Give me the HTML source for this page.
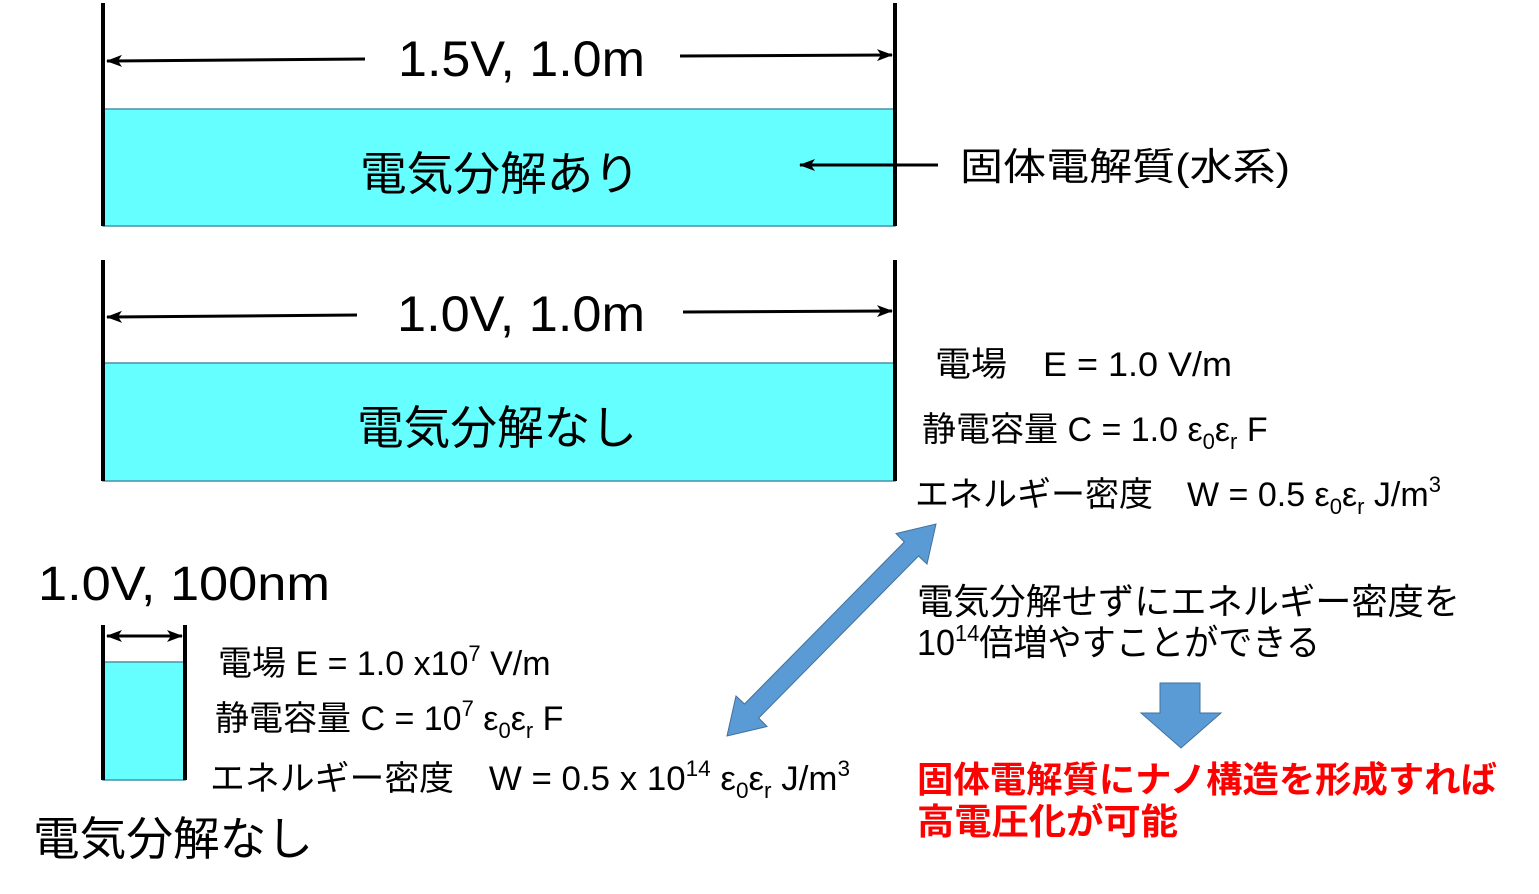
<!DOCTYPE html>
<html><head><meta charset="utf-8"><style>
html,body{margin:0;padding:0;background:#fff;}
svg{display:block;}
text{font-family:"Liberation Sans","Noto Sans CJK JP",sans-serif;fill:#000;}
</style></head><body>
<svg width="1539" height="894" viewBox="0 0 1539 894" xmlns="http://www.w3.org/2000/svg">
<defs>
<marker id="ah" markerWidth="16" markerHeight="12" refX="15" refY="6" orient="auto" markerUnits="userSpaceOnUse">
<path d="M0,0 L16,6 L0,12 L4,6 Z" fill="#000"/></marker>
</defs>
<!-- container 1 -->
<rect x="103" y="109" width="792" height="117" fill="#66ffff" stroke="#4a90a8" stroke-width="1.5"/>
<line x1="103" y1="3" x2="103" y2="226" stroke="#000" stroke-width="4"/>
<line x1="895" y1="3" x2="895" y2="226" stroke="#000" stroke-width="4"/>
<line x1="365" y1="59" x2="107" y2="61" stroke="#000" stroke-width="3" marker-end="url(#ah)"/>
<line x1="680" y1="56" x2="892" y2="55" stroke="#000" stroke-width="3" marker-end="url(#ah)"/>
<text x="398" y="76" font-size="50" textLength="247" lengthAdjust="spacingAndGlyphs">1.5V, 1.0m</text>
<text x="360" y="190" font-size="46" textLength="280" lengthAdjust="spacingAndGlyphs">電気分解あり</text>
<line x1="938" y1="165" x2="800" y2="165" stroke="#000" stroke-width="3" marker-end="url(#ah)"/>
<text x="960" y="180" font-size="38" textLength="330" lengthAdjust="spacingAndGlyphs">固体電解質(水系)</text>
<!-- container 2 -->
<rect x="103" y="363" width="792" height="118" fill="#66ffff" stroke="#4a90a8" stroke-width="1.5"/>
<line x1="103" y1="260" x2="103" y2="481" stroke="#000" stroke-width="4"/>
<line x1="895" y1="260" x2="895" y2="481" stroke="#000" stroke-width="4"/>
<line x1="357" y1="315" x2="107" y2="317" stroke="#000" stroke-width="3" marker-end="url(#ah)"/>
<line x1="683" y1="312" x2="892" y2="311" stroke="#000" stroke-width="3" marker-end="url(#ah)"/>
<text x="397" y="331" font-size="50" textLength="248" lengthAdjust="spacingAndGlyphs">1.0V, 1.0m</text>
<text x="357" y="444" font-size="46" textLength="280" lengthAdjust="spacingAndGlyphs">電気分解なし</text>
<text x="935" y="376" font-size="34" textLength="297" lengthAdjust="spacingAndGlyphs">電場　E = 1.0 V/m</text>
<text x="922" y="441" font-size="34">静電容量 C = 1.0 ε<tspan font-size="22" dy="8">0</tspan><tspan dy="-8">ε</tspan><tspan font-size="22" dy="8">r</tspan><tspan dy="-8"> F</tspan></text>
<text x="915" y="506" font-size="34">エネルギー密度　W = 0.5 ε<tspan font-size="22" dy="8">0</tspan><tspan dy="-8">ε</tspan><tspan font-size="22" dy="8">r</tspan><tspan dy="-8">  J/m</tspan><tspan font-size="22" dy="-14">3</tspan></text>
<!-- small container -->
<rect x="103" y="662" width="82" height="118" fill="#66ffff" stroke="#4a90a8" stroke-width="1.5"/>
<line x1="103" y1="625" x2="103" y2="780" stroke="#000" stroke-width="4"/>
<line x1="185" y1="625" x2="185" y2="780" stroke="#000" stroke-width="4"/>
<line x1="144" y1="636" x2="107" y2="636" stroke="#000" stroke-width="3" marker-end="url(#ah)"/>
<line x1="144" y1="636" x2="182" y2="636" stroke="#000" stroke-width="3" marker-end="url(#ah)"/>
<text x="38" y="600" font-size="48" textLength="292" lengthAdjust="spacingAndGlyphs">1.0V, 100nm</text>
<text x="218" y="675" font-size="34">電場 E = 1.0 x10<tspan font-size="22" dy="-14">7</tspan><tspan dy="14"> V/m</tspan></text>
<text x="215" y="730" font-size="34">静電容量 C = 10<tspan font-size="22" dy="-14">7</tspan><tspan dy="14"> ε</tspan><tspan font-size="22" dy="8">0</tspan><tspan dy="-8">ε</tspan><tspan font-size="22" dy="8">r</tspan><tspan dy="-8"> F</tspan></text>
<text x="210" y="790" font-size="34" textLength="640" lengthAdjust="spacingAndGlyphs">エネルギー密度　W = 0.5 x 10<tspan font-size="22" dy="-14">14</tspan><tspan dy="14"> ε</tspan><tspan font-size="22" dy="8">0</tspan><tspan dy="-8">ε</tspan><tspan font-size="22" dy="8">r</tspan><tspan dy="-8">  J/m</tspan><tspan font-size="22" dy="-14">3</tspan></text>
<text x="33" y="855" font-size="46" textLength="280" lengthAdjust="spacingAndGlyphs">電気分解なし</text>
<!-- double arrow -->
<polygon points="936,524 927,564 918.5,556 758.7,718 767,726.5 727,736 736,696 744.5,704 904.3,542 896,533.5" fill="#5b9bd5" stroke="#41719c" stroke-width="1"/>
<!-- down arrow -->
<polygon points="1160,683 1200,683 1200,713 1221,713 1181,748 1141,713 1160,713" fill="#5b9bd5" stroke="#41719c" stroke-width="1"/>
<text x="917" y="614" font-size="36" textLength="543" lengthAdjust="spacingAndGlyphs">電気分解せずにエネルギー密度を</text>
<text x="917" y="655" font-size="36" textLength="403" lengthAdjust="spacingAndGlyphs">10<tspan font-size="23" dy="-14">14</tspan><tspan dy="14">倍増やすことができる</tspan></text>
<text x="917" y="792" font-size="36" font-weight="bold" style="fill:#ff0000" textLength="580" lengthAdjust="spacingAndGlyphs">固体電解質にナノ構造を形成すれば</text>
<text x="917" y="834" font-size="36" font-weight="bold" style="fill:#ff0000" textLength="261" lengthAdjust="spacingAndGlyphs">高電圧化が可能</text>
</svg>
</body></html>
